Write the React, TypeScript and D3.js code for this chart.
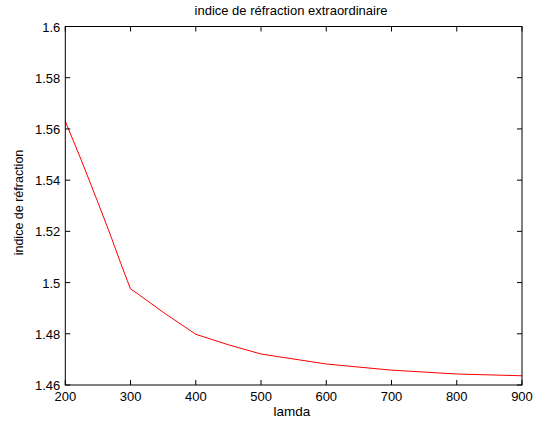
import React from "react";
import * as d3 from "d3";

const lambdas = [200, 225, 250, 270, 285, 295, 300, 310, 350, 400, 450, 500, 600, 700, 800, 900];
const indices = [1.563, 1.5475, 1.5313, 1.518, 1.5075, 1.5008, 1.4975, 1.4958, 1.4884, 1.4798, 1.4757, 1.4721, 1.4682, 1.4658, 1.4643, 1.4636];
const xTicks = [200, 300, 400, 500, 600, 700, 800, 900];
const yTicks = [1.46, 1.48, 1.5, 1.52, 1.54, 1.56, 1.58, 1.6];
const titleText = "indice de réfraction extraordinaire";
const xLabel = "lamda";
const yLabel = "indice de réfraction";

export default function App() {
  const W = 533, H = 427;
  const left = 65.3, right = 522, top = 26.5, bottom = 385;
  const x = d3.scaleLinear().domain([200, 900]).range([left, right]);
  const y = d3.scaleLinear().domain([1.46, 1.6]).range([bottom, top]);
  const line = d3.line<number>().x((_, i) => x(lambdas[i])).y((d) => y(d));
  const font = "'Liberation Sans', Arial, sans-serif";
  const tl = 5;
  return (
    <svg width={W} height={H} style={{ position: "absolute", left: 0, top: 0, background: "#fff" }} fontFamily={font}>
      <rect x={0} y={0} width={W} height={H} fill="#fff" />
      <path d={line(indices) || ""} fill="none" stroke="#ff0000" strokeWidth={1} />
      <rect x={left} y={top} width={right - left} height={bottom - top} fill="none" stroke="#000" strokeWidth={1} />
      {xTicks.map((t) => (
        <g key={"x" + t}>
          <line x1={x(t)} x2={x(t)} y1={bottom} y2={bottom - tl} stroke="#000" />
          <line x1={x(t)} x2={x(t)} y1={top} y2={top + tl} stroke="#000" />
          <text x={x(t)} y={bottom + 16} fontSize={13} textAnchor="middle" fill="#000">{t}</text>
        </g>
      ))}
      {yTicks.map((t) => (
        <g key={"y" + t}>
          <line x1={left} x2={left + tl} y1={y(t)} y2={y(t)} stroke="#000" />
          <line x1={right} x2={right - tl} y1={y(t)} y2={y(t)} stroke="#000" />
          <text x={left - 5} y={y(t) + 5} fontSize={13} textAnchor="end" fill="#000">{d3.format("")(+t.toFixed(2))}</text>
        </g>
      ))}
      <text x={291} y={15} fontSize={13} textAnchor="middle" fill="#000">{titleText}</text>
      <text x={292} y={416} fontSize={13.5} textAnchor="middle" fill="#000">{xLabel}</text>
      <text transform={`translate(23,202.5) rotate(-90)`} fontSize={12.5} textAnchor="middle" fill="#000">{yLabel}</text>
    </svg>
  );
}
